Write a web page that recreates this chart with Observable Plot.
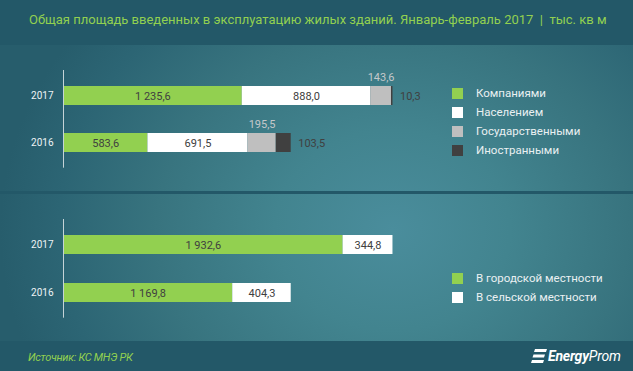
<!DOCTYPE html>
<html><head><meta charset="utf-8">
<script src="https://cdn.jsdelivr.net/npm/d3@7"></script>
<script src="https://cdn.jsdelivr.net/npm/@observablehq/plot@0.6"></script>
<style>
html,body{margin:0;padding:0;background:#235868;}
body{width:633px;height:371px;overflow:hidden;font-family:Roboto,"Noto Sans",sans-serif;}
#wrap{position:relative;width:633px;height:371px;overflow:hidden;
 background:radial-gradient(ellipse 62% 90% at 62% 62%, #4a8d9c 0%, #42848f 30%, #38747f 60%, #2c6574 85%, #275d6c 100%);}
.band{position:absolute;left:0;width:633px;background:#235868;}
#title{position:absolute;left:29px;top:12px;color:#92d050;font-size:13px;white-space:nowrap;line-height:16px;}
.panel{position:absolute;left:0;}
.legend{position:absolute;left:452px;}
.li{position:absolute;left:0;height:19px;white-space:nowrap;}
.sw{position:absolute;left:0;top:4px;width:11px;height:11px;}
.lt{position:absolute;left:24px;top:1px;color:#eaf0f2;font-size:11.5px;line-height:16px;}
#source{position:absolute;left:28px;top:351px;color:#92d050;font-size:11px;font-style:italic;letter-spacing:-0.3px;}
#logo{position:absolute;left:531px;top:348px;height:16px;white-space:nowrap;color:#fff;}
#logo span{position:absolute;left:17px;top:0px;font-size:14px;font-style:italic;line-height:16px;letter-spacing:-0.2px;}
</style></head>
<body>
<div id="wrap">
  <div class="band" style="top:0;height:45px"></div>
  <div class="band" style="top:191px;height:3px"></div>
  <div class="band" style="top:341px;height:30px"></div>
  <div id="title">Общая площадь введенных в эксплуатацию жилых зданий. Январь-февраль 2017 &nbsp;|&nbsp; тыс. кв м</div>
  <div id="p1" class="panel" style="top:45px"></div>
  <div id="p2" class="panel" style="top:194px"></div>
  <div id="leg1" class="legend" style="top:84px"></div>
  <div id="leg2" class="legend" style="top:269px"></div>
  <div id="source">Источник: КС МНЭ РК</div>
  <div id="logo">
    <svg width="17" height="16" viewBox="0 0 17 16" style="position:absolute;left:0;top:0">
      <path d="M4 1 H16 L15 4 H3 Z M2.5 6.5 H14 L13 9.5 H1.5 Z M1 12 H13 L12 15 H0 Z" fill="#fff"/>
    </svg>
    <span><b>Energy</b>Prom</span>
  </div>
</div>
<script>
// ---- data ----
const years = ["2017", "2016"];
const compCats = ["Компаниями", "Населением", "Государственными", "Иностранными"];
const comp2017 = [1235.6, 888.0, 143.6, 10.3];
const comp2016 = [583.6, 691.5, 195.5, 103.5];
const areaCats = ["В городской местности", "В сельской местности"];
const area2017 = [1932.6, 344.8];
const area2016 = [1169.8, 404.3];
const compColors = ["#92d050", "#ffffff", "#bfbfbf", "#404040"];
const areaColors = ["#92d050", "#ffffff"];
const compPlacement = ["in", "in", "above", "right"];
const areaPlacement = ["in", "in"];

const fmt = v => d3.format(",.1f")(v).replace(/,/g, " ").replace(".", ",");

function rowsOf(cats, v2017, v2016) {
  const rows = [];
  cats.forEach((c, i) => rows.push({year: years[0], cat: c, value: v2017[i]}));
  cats.forEach((c, i) => rows.push({year: years[1], cat: c, value: v2016[i]}));
  return rows;
}

function panel(rows, cats, colors, placement, h) {
  const place = new Map(cats.map((c, i) => [c, placement[i]]));
  const lab = p => d => place.get(d.cat) === p ? fmt(d.value) : null;
  const base = {x: "value", y: "year", z: "cat", order: cats};
  return Plot.plot({
    width: 633, height: h,
    marginLeft: 63, marginRight: 136, marginTop: 25, marginBottom: 23.3,
    style: {background: "transparent", fontFamily: "Roboto, sans-serif", overflow: "visible"},
    x: {domain: [0, 3000], axis: null},
    y: {domain: years, paddingInner: 0.594, paddingOuter: 0.315, label: null, axis: null},
    color: {domain: cats, range: colors},
    marks: [
      Plot.barX(rows, Plot.stackX({...base, fill: "cat"})),
      Plot.ruleX([0], {stroke: "#c5d3d7", strokeWidth: 1}),
      Plot.axisY({tickSize: 0, tickPadding: 10, fill: "#eef3f5", fontSize: 10, label: null}),
      Plot.text(rows, Plot.stackX({...base, text: lab("in"), fill: "#404040", fontSize: 11})),
      Plot.text(rows, Plot.stackX({...base, text: lab("above"), fill: "#c4c8ca", fontSize: 11, dy: -19})),
      Plot.text(rows, Plot.stackX2({...base, text: lab("right"), fill: "#404040", fontSize: 11, dx: 7, textAnchor: "start"}))
    ]
  });
}

document.getElementById("p1").appendChild(panel(rowsOf(compCats, comp2017, comp2016), compCats, compColors, compPlacement, 146));
document.getElementById("p2").appendChild(panel(rowsOf(areaCats, area2017, area2016), areaCats, areaColors, areaPlacement, 147));

function legend(id, cats, colors) {
  const el = document.getElementById(id);
  cats.forEach((c, i) => {
    const it = document.createElement("div");
    it.className = "li";
    it.style.top = (i * 19) + "px";
    it.innerHTML = `<div class="sw" style="background:${colors[i]}"></div><div class="lt"></div>`;
    it.querySelector(".lt").textContent = c;
    el.appendChild(it);
  });
}
legend("leg1", compCats, compColors);
legend("leg2", areaCats, areaColors);
</script>
</body></html>
